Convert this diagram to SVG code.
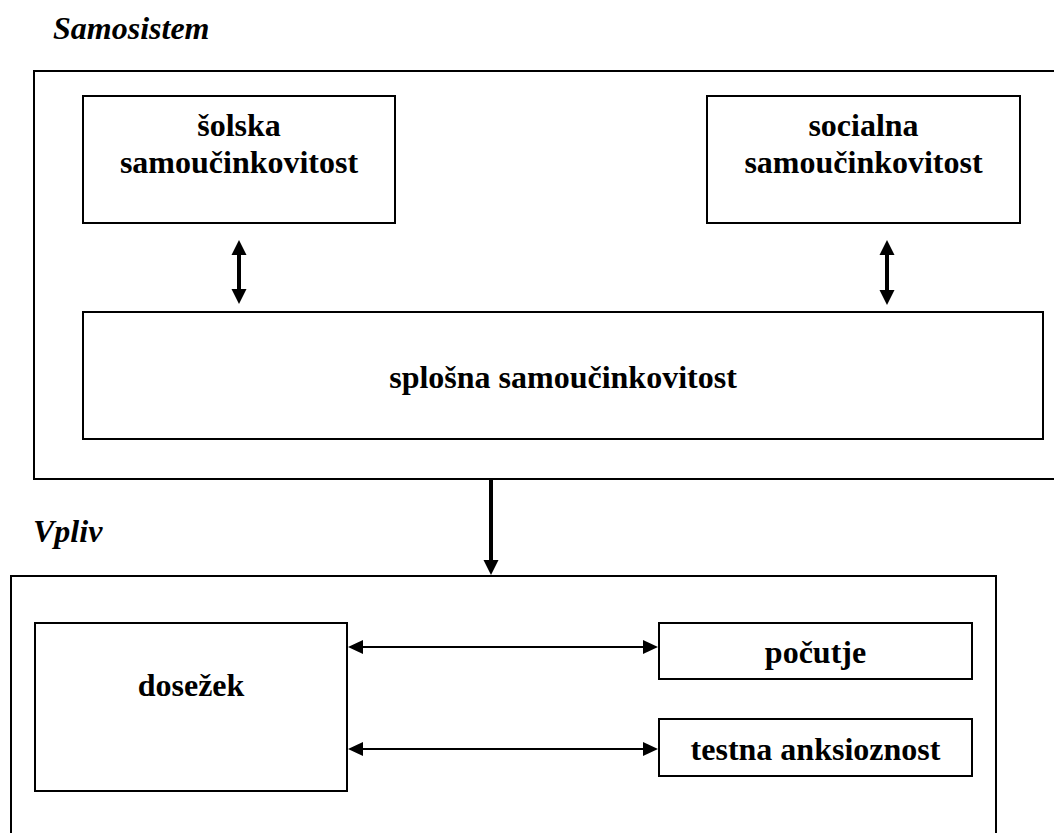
<svg xmlns="http://www.w3.org/2000/svg" width="1054" height="833" viewBox="0 0 1054 833">
  <style>
    text { font-family: 'Liberation Serif', 'DejaVu Serif', serif; font-weight: bold; font-size: 32px; fill: #000; }
    .box { fill: #fff; stroke: #000; stroke-width: 2; }
    .lbl { text-anchor: middle; }
    .title { font-style: italic; }
    .thick { stroke: #000; stroke-width: 4; fill: none; }
    .thin { stroke: #000; stroke-width: 2; fill: none; }
    .head { fill: #000; stroke: none; }
  </style>

  <rect width="1054" height="833" fill="#fff"/>

  <!-- section titles -->
  <text class="title" x="53" y="39" font-family="Liberation Serif, serif">Samosistem</text>
  <text class="title" x="33" y="542" font-family="Liberation Serif, serif">Vpliv</text>

  <!-- container frames -->
  <g id="samosistem-frame">
    <rect class="box" x="34" y="71" width="1040" height="408"/>
  </g>
  <g id="vpliv-frame">
    <rect class="box" x="11" y="576" width="985" height="280"/>
  </g>

  <g id="solska" font-family="Liberation Serif, serif">
    <rect class="box" x="83" y="96" width="312" height="127"/>
    <text class="lbl" x="239" y="136">šolska</text>
    <text class="lbl" x="239" y="173">samoučinkovitost</text>
  </g>

  <g id="socialna">
    <rect class="box" x="707" y="96" width="313" height="127"/>
    <text class="lbl" x="863.5" y="136">socialna</text>
    <text class="lbl" x="863.5" y="173">samoučinkovitost</text>
  </g>

  <g id="splosna">
    <rect class="box" x="83" y="312" width="960" height="127"/>
    <text class="lbl" x="563" y="388">splošna samoučinkovitost</text>
  </g>

  <g id="dosezek">
    <rect class="box" x="35" y="623" width="312" height="168"/>
    <text class="lbl" x="191" y="696">dosežek</text>
  </g>

  <g id="pocutje">
    <rect class="box" x="659" y="623" width="313" height="56"/>
    <text class="lbl" x="815.5" y="663">počutje</text>
  </g>

  <g id="testna">
    <rect class="box" x="659" y="719" width="313" height="57"/>
    <text class="lbl" x="815.5" y="760">testna anksioznost</text>
  </g>

  <!-- connectors -->
  <g id="connectors">
    <!-- šolska <-> splošna -->
    <line class="thick" x1="239" y1="252" x2="239" y2="292"/>
    <polygon class="head" points="239,240 231.5,255 246.5,255"/>
    <polygon class="head" points="239,304 231.5,289 246.5,289"/>

    <!-- socialna <-> splošna -->
    <line class="thick" x1="887" y1="252" x2="887" y2="293"/>
    <polygon class="head" points="887,240 879.5,255 894.5,255"/>
    <polygon class="head" points="887,305 879.5,290 894.5,290"/>

    <!-- samosistem -> vpliv -->
    <line class="thick" x1="491" y1="479" x2="491" y2="562"/>
    <polygon class="head" points="491,575 483.5,560 498.5,560"/>

    <!-- dosežek <-> počutje -->
    <line class="thin" x1="360" y1="647" x2="646" y2="647"/>
    <polygon class="head" points="348,647 363,640 363,654"/>
    <polygon class="head" points="658,647 643,640 643,654"/>

    <!-- dosežek <-> testna anksioznost -->
    <line class="thin" x1="360" y1="749" x2="646" y2="749"/>
    <polygon class="head" points="348,749 363,742 363,756"/>
    <polygon class="head" points="658,749 643,742 643,756"/>
  </g>
</svg>
